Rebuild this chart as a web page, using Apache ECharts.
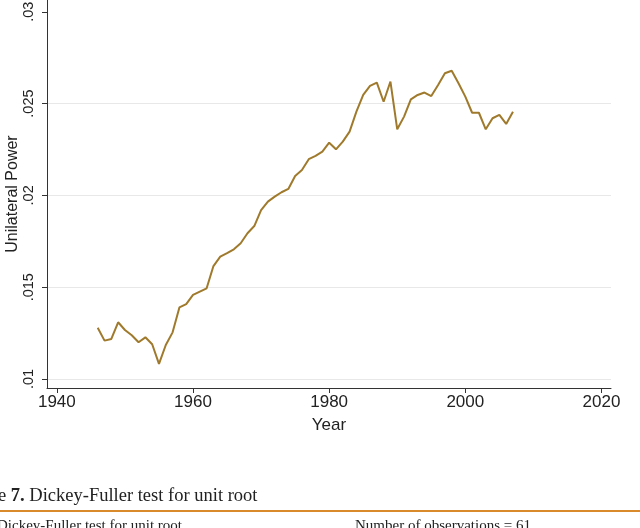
<!DOCTYPE html>
<html>
<head>
<meta charset="utf-8">
<script src="https://cdn.jsdelivr.net/npm/echarts@6/dist/echarts.min.js"></script>
<style>
  html, body { margin: 0; padding: 0; background: #fff; }
  #chart { width: 640px; height: 528px; }
</style>
</head>
<body>
<div id="chart"></div>
<script>
var years = [1946, 1947, 1948, 1949, 1950, 1951, 1952, 1953, 1954, 1955,
  1956, 1957, 1958, 1959, 1960, 1961, 1962, 1963, 1964, 1965,
  1966, 1967, 1968, 1969, 1970, 1971, 1972, 1973, 1974, 1975,
  1976, 1977, 1978, 1979, 1980, 1981, 1982, 1983, 1984, 1985,
  1986, 1987, 1988, 1989, 1990, 1991, 1992, 1993, 1994, 1995,
  1996, 1997, 1998, 1999, 2000, 2001, 2002, 2003, 2004, 2005,
  2006, 2007];
var power = [0.01279, 0.01209, 0.01218, 0.01309, 0.01267, 0.01238, 0.01200, 0.01227, 0.01189, 0.01082,
  0.01185, 0.01254, 0.01390, 0.01408, 0.01458, 0.01476, 0.01494, 0.01615, 0.01666, 0.01685,
  0.01706, 0.01739, 0.01794, 0.01833, 0.01920, 0.01966, 0.01993, 0.02017, 0.02035, 0.02106,
  0.02138, 0.02197, 0.02215, 0.02238, 0.02287, 0.02251, 0.02293, 0.02347, 0.02456, 0.02547,
  0.02596, 0.02614, 0.02510, 0.02620, 0.02360, 0.02429, 0.02523, 0.02547, 0.02560, 0.02541,
  0.02601, 0.02665, 0.02679, 0.02611, 0.02538, 0.02450, 0.02450, 0.02360, 0.02420, 0.02438,
  0.02389, 0.02456];
var xTicks = [1940, 1960, 1980, 2000, 2020];
var yTicks = [0.01, 0.015, 0.02, 0.025, 0.03];

var myChart = echarts.init(document.getElementById('chart'));
var font = 'Liberation Sans, Arial, sans-serif';
var serif = 'Liberation Serif, DejaVu Serif, serif';

// gridlines at every y tick except the top one
var gridColors = yTicks.map(function (v, i) {
  return i < yTicks.length - 1 ? '#e8e8e8' : 'rgba(0,0,0,0)';
});

var option = {
  animation: false,
  grid: {
    left: 47,
    right: 29,
    top: 0,
    bottom: 140,
    containLabel: false,
    outerBoundsMode: 'none'
  },
  xAxis: {
    type: 'value',
    min: 1938.55,
    max: 2021.4,
    name: 'Year',
    nameLocation: 'middle',
    nameGap: 29,
    nameMoveOverlap: false,
    nameTextStyle: { color: '#222', fontSize: 17, fontFamily: font },
    axisLine: { show: true, lineStyle: { color: '#333', width: 1 } },
    axisTick: { show: true, length: 5, customValues: xTicks, lineStyle: { color: '#333' } },
    axisLabel: {
      customValues: xTicks,
      color: '#222',
      fontSize: 17,
      fontFamily: font,
      margin: 6,
      formatter: function (v) { return String(v); }
    },
    splitLine: { show: false }
  },
  yAxis: {
    type: 'value',
    min: 0.00951,
    max: 0.03064,
    name: 'Unilateral Power',
    nameLocation: 'middle',
    nameGap: 26,
    nameMoveOverlap: false,
    nameTextStyle: { color: '#222', fontSize: 16, fontFamily: font },
    axisLine: { show: true, lineStyle: { color: '#333', width: 1 } },
    axisTick: { show: true, length: 5, customValues: yTicks, lineStyle: { color: '#333' } },
    axisLabel: {
      customValues: yTicks,
      rotate: 90,
      color: '#222',
      fontSize: 14.5,
      fontFamily: font,
      margin: 11,
      formatter: function (v) { return String(+v.toFixed(3)).replace(/^0/, ''); }
    },
    splitLine: {
      show: true,
      lineStyle: { color: gridColors, width: 1 }
    }
  },
  series: [{
    type: 'line',
    data: years.map(function (y, i) { return [y, power[i]]; }),
    symbol: 'none',
    lineStyle: { color: '#a07a2c', width: 2 },
    z: 3
  }],
  graphic: [
    {
      type: 'text',
      left: -2,
      top: 487,
      style: {
        text: 'e {b|7.} Dickey-Fuller test for unit root',
        fontFamily: serif,
        fontSize: 18.5,
        fill: '#222',
        rich: { b: { fontWeight: 'bold', fontFamily: serif, fontSize: 18.5, fill: '#222' } }
      }
    },
    {
      type: 'line',
      shape: { x1: 0, y1: 511, x2: 640, y2: 511 },
      style: { stroke: '#d98a2b', lineWidth: 2 }
    },
    {
      type: 'text',
      left: -3,
      top: 519,
      style: { text: 'Dickey-Fuller test for unit root', fontFamily: serif, fontSize: 15, fill: '#222' }
    },
    {
      type: 'text',
      left: 355,
      top: 519,
      style: { text: 'Number of observations = 61', fontFamily: serif, fontSize: 15, fill: '#222' }
    }
  ]
};
myChart.setOption(option);
</script>
</body>
</html>
